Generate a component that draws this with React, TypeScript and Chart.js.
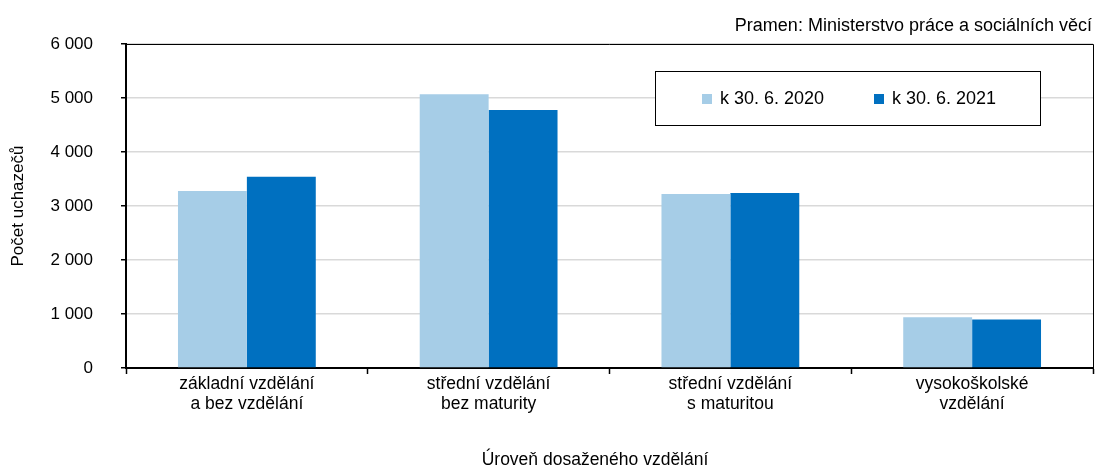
import React, { useEffect, useRef } from "react";
import { Chart, registerables } from "chart.js";

Chart.register(...registerables);

const categories: string[][] = [
  ["základní vzdělání", "a bez vzdělání"],
  ["střední vzdělání", "bez maturity"],
  ["střední vzdělání", "s maturitou"],
  ["vysokoškolské", "vzdělání"],
];
const series2020: number[] = [3280, 5070, 3220, 940];
const series2021: number[] = [3540, 4780, 3240, 900];
const seriesLabels: string[] = ["k 30. 6. 2020", "k 30. 6. 2021"];
const yTicks: number[] = [0, 1000, 2000, 3000, 4000, 5000, 6000];
const sourceText = "Pramen: Ministerstvo práce a sociálních věcí";
const yTitle = "Počet uchazečů";
const xTitle = "Úroveň dosaženého vzdělání";

const FONT = "'Liberation Sans', Arial, sans-serif";
const fmt = (v: number) => String(v).replace(/\B(?=(\d{3})+(?!\d))/g, " ");

const decorPlugin = {
  id: "decor",
  afterDraw(chart: any) {
    const ctx = chart.ctx;
    const a = chart.chartArea;
    ctx.save();
    ctx.strokeStyle = "#000";
    ctx.lineWidth = 1;
    ctx.beginPath();
    ctx.moveTo(a.left, a.top + 0.5);
    ctx.lineTo(a.right + 0.5, a.top + 0.5);
    ctx.lineTo(a.right + 0.5, a.bottom);
    ctx.stroke();
    ctx.fillStyle = "#000";
    ctx.font = `18px ${FONT}`;
    ctx.textAlign = "right";
    ctx.textBaseline = "middle";
    ctx.fillText(sourceText, a.right - 1, 26);
    // x axis title
    ctx.font = `17.5px ${FONT}`;
    ctx.textAlign = "center";
    ctx.fillText(xTitle, 595, 460);
    // legend
    ctx.font = `18px ${FONT}`;
    const bx = 655, by = 71, bw = 385, bh = 54;
    ctx.fillStyle = "#fff";
    ctx.fillRect(bx, by, bw, bh);
    ctx.strokeStyle = "#000";
    ctx.lineWidth = 1;
    ctx.strokeRect(bx + 0.5, by + 0.5, bw, bh);
    const xs = [702, 874];
    chart.data.datasets.forEach((ds: any, i: number) => {
      ctx.fillStyle = ds.backgroundColor;
      ctx.fillRect(xs[i], 94, 10, 10);
      ctx.fillStyle = "#000";
      ctx.textAlign = "left";
      ctx.textBaseline = "middle";
      ctx.fillText(ds.label, xs[i] + 18, 99);
    });
    ctx.restore();
  },
};

export default function App() {
  const ref = useRef<HTMLCanvasElement>(null);
  useEffect(() => {
    document.body.style.margin = "0";
    const chart = new Chart(ref.current!, {
      type: "bar",
      data: {
        labels: categories,
        datasets: [
          {
            label: seriesLabels[0],
            data: series2020,
            backgroundColor: "#A6CDE7",
            categoryPercentage: 0.57,
            barPercentage: 1.0,
          },
          {
            label: seriesLabels[1],
            data: series2021,
            backgroundColor: "#0070C0",
            categoryPercentage: 0.57,
            barPercentage: 1.0,
          },
        ],
      },
      options: {
        animation: false,
        responsive: false,
        maintainAspectRatio: false,
        layout: { padding: { top: 44, right: 4, left: 0, bottom: 0 } },
        plugins: {
          legend: { display: false },
          tooltip: { enabled: false },
          title: { display: false },
        },
        scales: {
          x: {
            grid: {
              offset: true,
              drawOnChartArea: false,
              drawTicks: true,
              tickLength: 6,
              tickColor: "#000",
              tickWidth: 1.5,
            },
            border: { color: "#000", width: 2 },
            ticks: {
              color: "#000",
              padding: 0,
              font: { family: FONT, size: 17.5, lineHeight: 1.15 },
              maxRotation: 0,
              autoSkip: false,
            },
            title: { display: false },
            afterFit(s: any) {
              s.height = 101;
            },
          },
          y: {
            min: 0,
            max: 6000,
            afterBuildTicks(s: any) {
              s.ticks = yTicks.map((v) => ({ value: v }));
            },
            grid: {
              color: "#D9D9D9",
              lineWidth: 1.5,
              drawTicks: true,
              tickLength: 5,
              tickColor: "#000",
              tickWidth: 1.5,
            },
            border: { color: "#000", width: 2 },
            ticks: {
              color: "#000",
              padding: 28,
              font: { family: FONT, size: 17 },
              callback: (v: any) => fmt(Number(v)),
            },
            title: {
              display: true,
              text: yTitle,
              color: "#000",
              font: { family: FONT, size: 17 },
              padding: { top: 8, bottom: 0 },
            },
            afterFit(s: any) {
              s.width = 126;
            },
          },
        },
      },
      plugins: [decorPlugin],
    });
    return () => chart.destroy();
  }, []);
  return (
    <div style={{ width: 1097, height: 469 }}>
      <canvas ref={ref} width={1097} height={469} style={{ display: "block" }} />
    </div>
  );
}
